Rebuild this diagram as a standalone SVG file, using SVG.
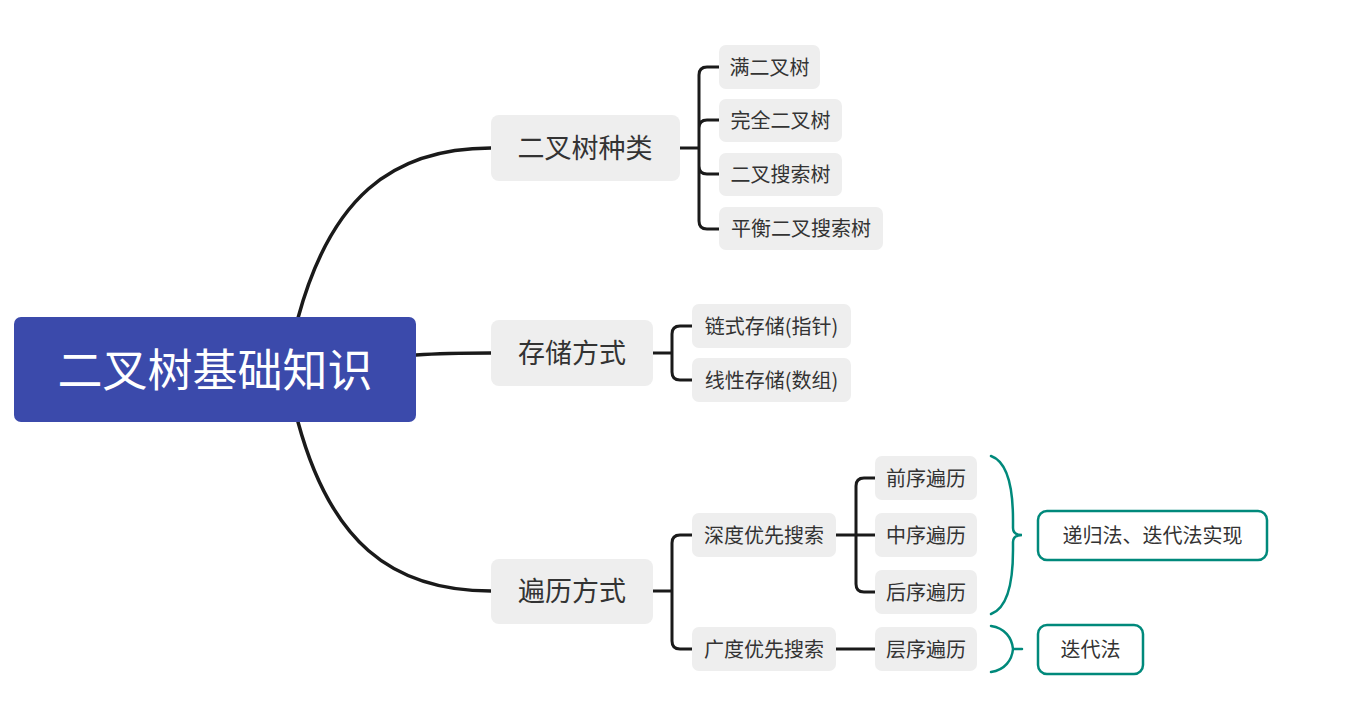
<svg xmlns="http://www.w3.org/2000/svg" width="1350" height="714" viewBox="0 0 1350 714">
<style>
text{font-family:"Microsoft YaHei","Noto Sans CJK SC","Noto Sans",sans-serif;text-anchor:middle;fill:#333333}
.n1 rect,.n2 rect{fill:#eeeeee}
.n1 text{font-size:27px}
.n2 text{font-size:20px}
.root rect{fill:#3b4aab}
.root text{fill:#ffffff;font-size:45px}
.sum rect{fill:#ffffff;stroke:#00897b;stroke-width:2.5}
.sum text{font-size:20px}
.c{fill:none;stroke:#1a1a1a;stroke-width:3;stroke-linecap:round}
.c0{stroke-width:3.5}
.br{fill:none;stroke:#00897b;stroke-width:2.5;stroke-linecap:round}
</style>
<g id="connectors">
<path class="c c0" d="M298,318 C330,200 390,148 491,148"/>
<path class="c c0" d="M416,355 C445,353 460,353 491,353"/>
<path class="c c0" d="M298,422 C330,540 390,591 491,591"/>
<path class="c" d="M680,148 H699 M699,148 V75 Q699,67 707,67 H719 M699,148 V128 Q699,120 707,120 H719 M699,148 V166 Q699,174 707,174 H719 M699,148 V221 Q699,229 707,229 H719"/>
<path class="c" d="M653,353 H672 M672,353 V334 Q672,326 680,326 H692 M672,353 V372 Q672,380 680,380 H692"/>
<path class="c" d="M653,591 H672 M672,591 V543 Q672,535 680,535 H692 M672,591 V641 Q672,649 680,649 H692"/>
<path class="c" d="M836,535 H856 M856,535 V486 Q856,478 864,478 H875 M856,535 H875 M856,535 V584 Q856,592 864,592 H875"/>
<path class="c" d="M836,649 H875"/>
<path class="br" d="M991,456 C1008,462 1013,490 1013,520 V528 Q1013,535 1022,535 Q1013,535 1013,542 V550 C1013,580 1008,608 991,614"/>
<path class="br" d="M991,626 C1005,628 1012,638 1013,649 C1012,660 1005,670 991,672 M1013,649 H1022"/>
</g>
<g id="root" class="root"><rect x="14" y="317" width="402" height="105" rx="7"/><text x="215" y="387">二叉树基础知识</text></g>
<g id="n-types" class="n1"><rect x="491" y="115" width="189" height="66" rx="8"/><text x="585" y="158">二叉树种类</text></g>
<g id="n-storage" class="n1"><rect x="491" y="320" width="162" height="66" rx="8"/><text x="572" y="363">存储方式</text></g>
<g id="n-traverse" class="n1"><rect x="491" y="559" width="162" height="65" rx="8"/><text x="572" y="601">遍历方式</text></g>
<g id="n-full" class="n2"><rect x="719" y="45" width="101" height="44" rx="7"/><text x="769.5" y="74.6">满二叉树</text></g>
<g id="n-complete" class="n2"><rect x="719" y="99" width="123" height="43" rx="7"/><text x="780.5" y="128">完全二叉树</text></g>
<g id="n-bst" class="n2"><rect x="719" y="153" width="123" height="43" rx="7"/><text x="780.5" y="182">二叉搜索树</text></g>
<g id="n-avl" class="n2"><rect x="719" y="207" width="164" height="43" rx="7"/><text x="801" y="236">平衡二叉搜索树</text></g>
<g id="n-linked" class="n2"><rect x="692" y="304" width="159" height="44" rx="7"/><text x="771.5" y="333.6">链式存储(指针)</text></g>
<g id="n-array" class="n2"><rect x="692" y="358" width="159" height="44" rx="7"/><text x="771.5" y="387.6">线性存储(数组)</text></g>
<g id="n-dfs" class="n2"><rect x="692" y="513" width="144" height="44" rx="7"/><text x="764" y="542.6">深度优先搜索</text></g>
<g id="n-bfs" class="n2"><rect x="692" y="627" width="144" height="44" rx="7"/><text x="764" y="656.6">广度优先搜索</text></g>
<g id="n-pre" class="n2"><rect x="875" y="456" width="102" height="44" rx="7"/><text x="926" y="485.6">前序遍历</text></g>
<g id="n-in" class="n2"><rect x="875" y="513" width="102" height="44" rx="7"/><text x="926" y="542.6">中序遍历</text></g>
<g id="n-post" class="n2"><rect x="875" y="570" width="102" height="44" rx="7"/><text x="926" y="599.6">后序遍历</text></g>
<g id="n-level" class="n2"><rect x="875" y="627" width="102" height="44" rx="7"/><text x="926" y="656.6">层序遍历</text></g>
<g id="s-dfs" class="sum"><rect x="1038" y="511" width="229" height="49" rx="9"/><text x="1152.5" y="543">递归法、迭代法实现</text></g>
<g id="s-bfs" class="sum"><rect x="1038" y="625" width="105" height="49" rx="9"/><text x="1090.5" y="657">迭代法</text></g>
</svg>
